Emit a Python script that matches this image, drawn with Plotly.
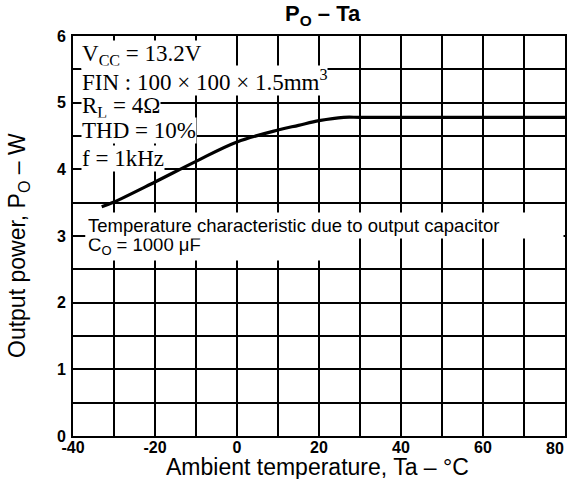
import plotly.graph_objects as go

ta = [-33, -30, -20, -10, 0, 10, 15, 20, 26, 30, 40, 50, 60, 70, 80]
po = [3.44, 3.51, 3.81, 4.12, 4.41, 4.59, 4.66, 4.73, 4.78, 4.78, 4.78, 4.78, 4.78, 4.78, 4.78]

x_ticks = [-40, -20, 0, 20, 40, 60, 80]
y_ticks = [0, 1, 2, 3, 4, 5, 6]

cond_lines = [
    "V<sub>CC</sub> = 13.2V",
    "FIN : 100 × 100 × 1.5mm<sup>3</sup>",
    "R<sub>L</sub> = 4Ω",
    "THD = 10%",
    "f = 1kHz",
]
cond_y = [5.72, 5.33, 4.93, 4.58, 4.17]

note_lines = ["Temperature characteristic due to output capacitor", "C<sub>O</sub> = 1000 μF"]
note_y = [3.16, 2.85]
note_w = [473, 255]

tick_font = dict(family="Liberation Sans", size=16, color="black", weight="bold")

fig = go.Figure()
fig.add_trace(go.Scatter(x=ta, y=po, mode="lines",
                         line=dict(color="black", width=3.2, shape="spline", smoothing=1.0),
                         showlegend=False, hoverinfo="skip"))

for t, yv in zip(cond_lines, cond_y):
    fig.add_annotation(x=-38, y=yv, xref="x", yref="y", text=t, showarrow=False,
                       xanchor="left", yanchor="middle",
                       font=dict(family="Liberation Serif", size=23, color="black"),
                       bgcolor="white", borderpad=0)

# second line drawn first so the first line's descenders stay on top
for t, yv, w in reversed(list(zip(note_lines, note_y, note_w))):
    fig.add_annotation(x=-37, y=yv, xref="x", yref="y", text=t, showarrow=False,
                       xanchor="left", yanchor="middle", align="left", width=w,
                       font=dict(family="Liberation Sans", size=18.5, color="black"),
                       bgcolor="white", borderpad=2)

# last x tick label sits just inside the right border, as in the original
fig.add_annotation(x=x_ticks[-1], y=0, xref="x", yref="y", text=str(x_ticks[-1]),
                   showarrow=False, xanchor="right", yanchor="top", xshift=1, yshift=-2,
                   font=tick_font)

# title and axis titles (paper coords are relative to the plot area)
fig.add_annotation(x=0.508, y=1, xref="paper", yref="paper", yshift=21,
                   text="<b>P<sub>O</sub> – Ta</b>", showarrow=False,
                   xanchor="center", yanchor="middle",
                   font=dict(family="Liberation Sans", size=22, color="black"))
fig.add_annotation(x=0.496, y=0, xref="paper", yref="paper", yshift=-31,
                   text="Ambient temperature, Ta – °C", showarrow=False,
                   xanchor="center", yanchor="middle",
                   font=dict(family="Liberation Sans", size=23, color="black"))
fig.add_annotation(x=0, y=0.475, xref="paper", yref="paper", xshift=-55,
                   text="Output power, P<sub>O</sub> – W", showarrow=False, textangle=-90,
                   xanchor="center", yanchor="middle",
                   font=dict(family="Liberation Sans", size=23, color="black"))

fig.update_layout(
    width=577, height=479,
    margin=dict(l=73, r=12, t=36, b=43, autoexpand=False),
    paper_bgcolor="white", plot_bgcolor="white",
    font=dict(family="Liberation Sans", color="black"),
)
fig.update_xaxes(range=[-40, 80], tickvals=x_ticks[:-1], ticktext=[str(v) for v in x_ticks[:-1]],
                 tickfont=tick_font, ticklabelstandoff=-4,
                 showgrid=True, gridcolor="black", gridwidth=1.5, automargin=False,
                 minor=dict(dtick=10, showgrid=True, gridcolor="black", gridwidth=1.5),
                 showline=True, linecolor="black", linewidth=2, mirror=True,
                 zeroline=False, ticks="", ticklen=0)
fig.update_yaxes(range=[0, 6], tickvals=y_ticks, ticktext=[str(v) for v in y_ticks],
                 tickfont=tick_font, ticklabelstandoff=2,
                 showgrid=True, gridcolor="black", gridwidth=1.5, automargin=False,
                 minor=dict(dtick=0.5, showgrid=True, gridcolor="black", gridwidth=1.5),
                 showline=True, linecolor="black", linewidth=2, mirror=True,
                 zeroline=False, ticks="", ticklen=0)

fig.write_html("out.html", config={"displayModeBar": False},
               post_script="document.body.style.margin='0';document.body.style.overflow='hidden';")
